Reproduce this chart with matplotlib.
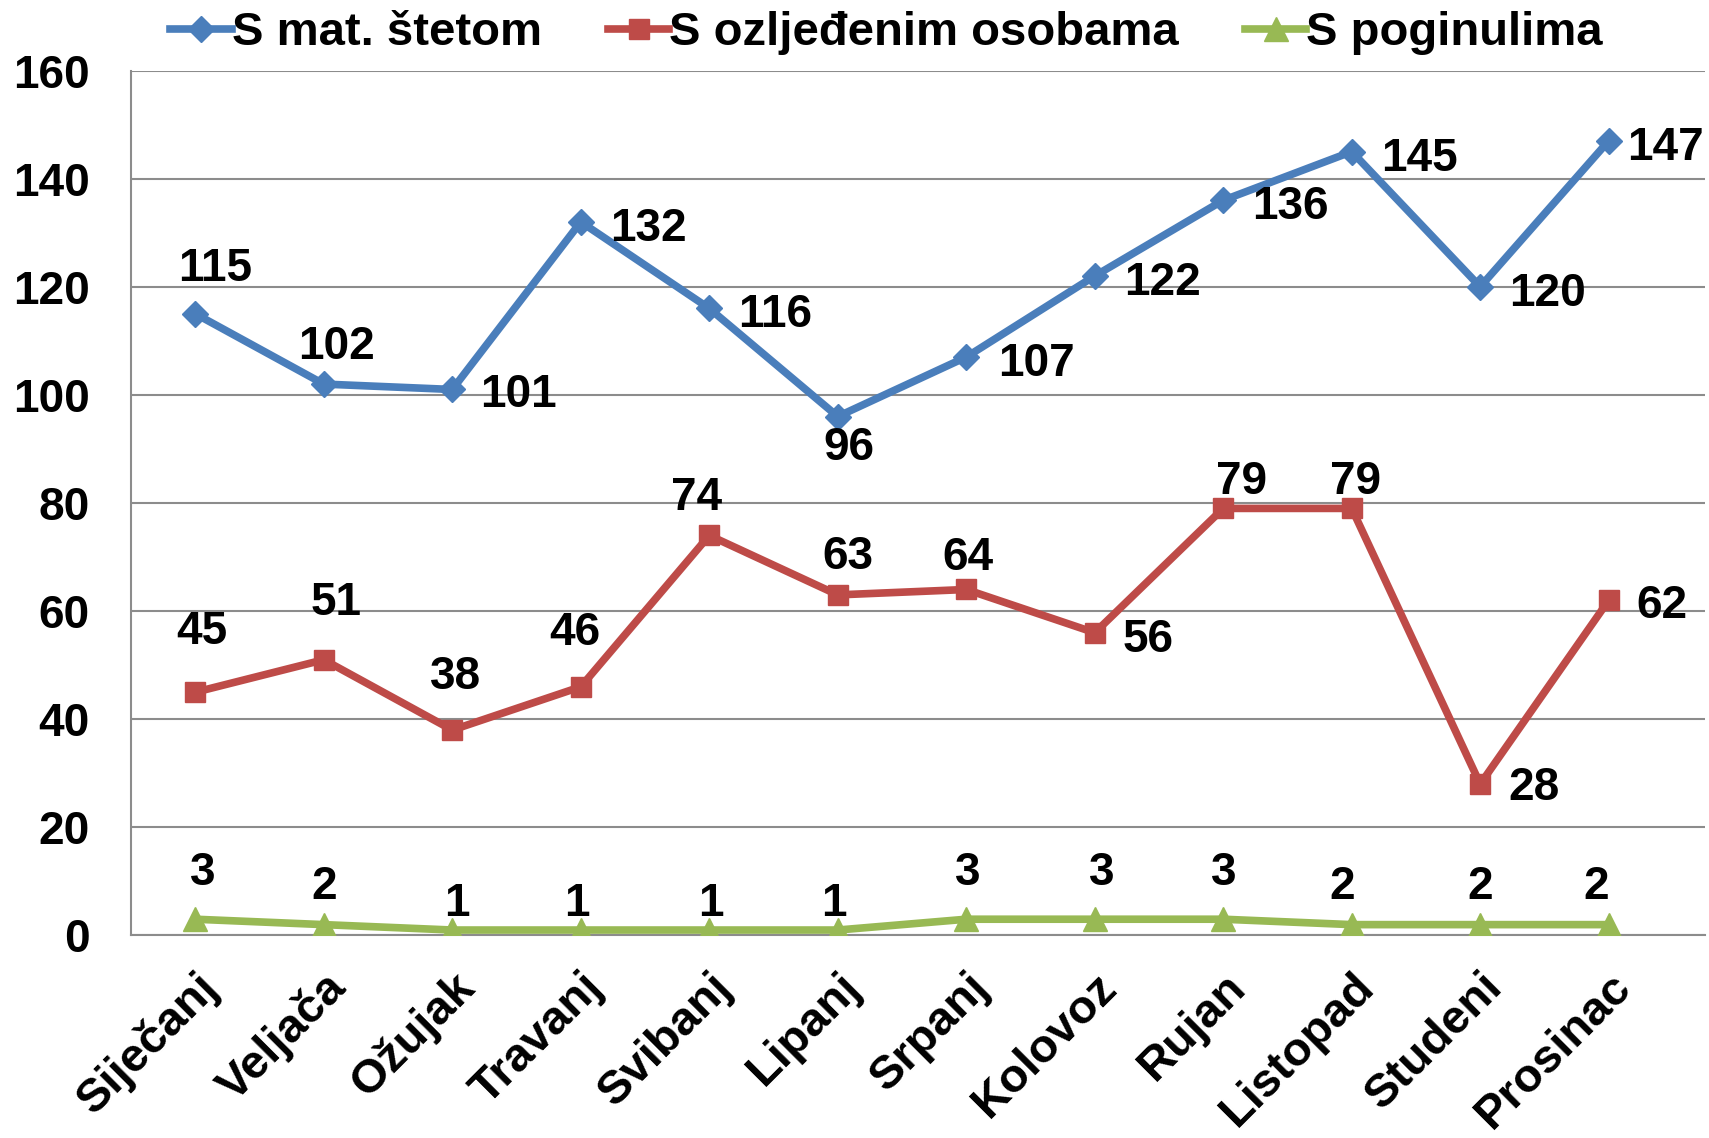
import matplotlib.pyplot as plt

plt.rcParams['font.family'] = ['Liberation Sans', 'DejaVu Sans']
plt.rcParams['font.weight'] = 'bold'

months = ['Siječanj', 'Veljača', 'Ožujak', 'Travanj', 'Svibanj', 'Lipanj',
          'Srpanj', 'Kolovoz', 'Rujan', 'Listopad', 'Studeni', 'Prosinac']
mat_steta = [115, 102, 101, 132, 116, 96, 107, 122, 136, 145, 120, 147]
ozljedeni = [45, 51, 38, 46, 74, 63, 64, 56, 79, 79, 28, 62]
poginuli = [3, 2, 1, 1, 1, 1, 3, 3, 3, 2, 2, 2]

# label offsets in points (dx, dy) and alignment: c = centred, l = left of text at point
lab_mat = [(14, 35, 'c'), (9, 30, 'c'), (20, -1, 'l'), (21, -2, 'l'), (21, -2, 'l'),
           (8, -20, 'c'), (23, -2, 'l'), (21, -2, 'l'), (21, -2, 'l'), (21, -2, 'l'),
           (21, -2, 'l'), (13, -2, 'l')]
lab_ozl = [(5, 46, 'c'), (9, 44, 'c'), (2, 41, 'c'), (-4, 42, 'c'), (-9, 30, 'c'),
           (7, 30, 'c'), (1, 26, 'c'), (20, -2, 'l'), (13, 22, 'c'), (3, 22, 'c'),
           (20, 0, 'l'), (20, -1, 'l')]
lab_pog = [(5, 36, 'c'), (0, 30, 'c'), (3, 22, 'c'), (-3, 22, 'c'), (1, 22, 'c'),
           (-3, 22, 'c'), (1, 36, 'c'), (5, 36, 'c'), (0, 36, 'c'), (-7, 30, 'c'),
           (0, 30, 'c'), (-9, 30, 'c')]

fig = plt.figure(figsize=(17.09, 11.38), dpi=100)
ax = fig.add_axes([0.0767, 0.178, 0.921, 0.76])

x = list(range(len(months)))
series = [
    (mat_steta, 'S mat. štetom', '#4A7EBB', 'D', 13, lab_mat),
    (ozljedeni, 'S ozljeđenim osobama', '#BE4B48', 's', 15, lab_ozl),
    (poginuli, 'S poginulima', '#98B954', '^', 17, lab_pog),
]
for vals, name, col, mk, ms, labs in series:
    ax.plot(x, vals, color=col, lw=5.5, marker=mk, markersize=ms, label=name,
            zorder=3)
    for xi, v, (dx, dy, al) in zip(x, vals, labs):
        ha = 'center' if al == 'c' else 'left'
        ax.annotate(str(v), (xi, v), xytext=(dx, dy - 3), textcoords='offset points',
                    ha=ha, va='center', fontsize=33, fontweight='bold', zorder=4)

ax.set_xlim(-0.5, 11.75)
ax.set_ylim(0, 160)
ax.set_yticks(range(0, 161, 20))
ax.set_xticks(x)
ax.set_xticklabels(months, rotation=45, ha='right', rotation_mode='anchor')
ax.tick_params(axis='y', labelsize=33, length=0, pad=30)
ax.tick_params(axis='x', labelsize=34, length=0, pad=21)
ax.yaxis.grid(True, color='#8c8c8c', lw=1.5)
ax.set_axisbelow(True)
for s in ['top', 'right']:
    ax.spines[s].set_visible(False)
for s in ['left', 'bottom']:
    ax.spines[s].set_color('#8c8c8c')
    ax.spines[s].set_linewidth(1.5)

ax.legend(loc='center', bbox_to_anchor=(0.48, 1.043), ncol=3, frameon=False,
          fontsize=34, handlelength=1.3, handletextpad=0.0, columnspacing=1.4,
          borderaxespad=0, borderpad=0)

fig.savefig('out.png', dpi=100)
